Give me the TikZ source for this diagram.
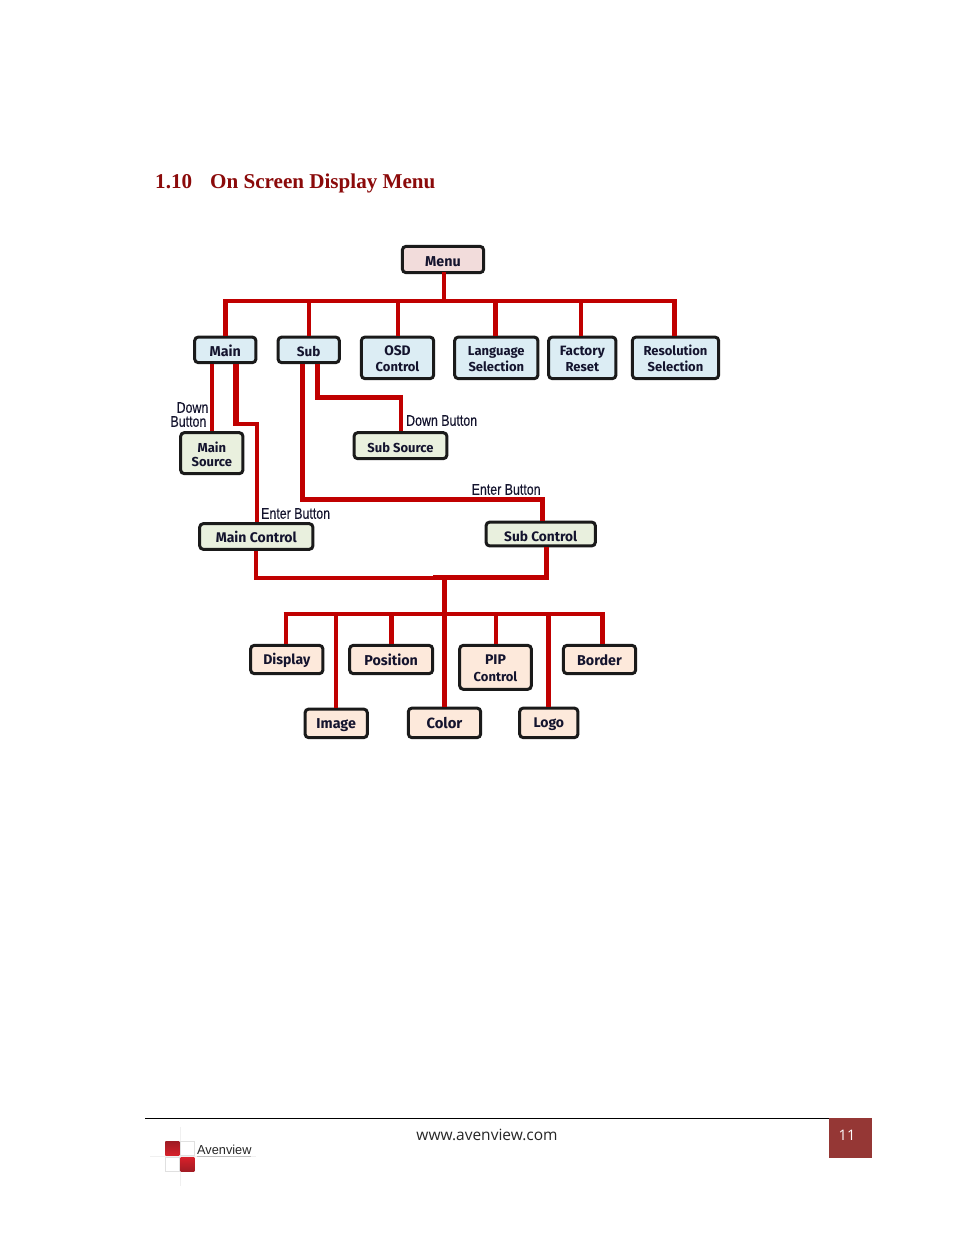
\documentclass[tikz,border=0pt]{standalone}
\usepackage{fontspec}
\setmainfont{Liberation Sans}
\newfontfamily\boxfont{Fira Sans}[UprightFont=*-Bold]
\newfontfamily\labelfont{Liberation Sans}
\newfontfamily\hintfont{Liberation Sans}[FakeBold=0.25]
\newfontfamily\titlefont{Liberation Serif}
\newfontfamily\footfont{Open Sans}
\definecolor{wirered}{HTML}{C00000}
\definecolor{ink}{HTML}{14142E}
\definecolor{boxline}{HTML}{1A1A1A}
\definecolor{blueb}{HTML}{DCEDF4}
\definecolor{greenb}{HTML}{E9F0DE}
\definecolor{peachb}{HTML}{FDE9DB}
\definecolor{pinkb}{HTML}{F2DCDB}
\definecolor{titlered}{HTML}{8B0A0A}
\definecolor{pagebox}{HTML}{953735}
\definecolor{logored}{HTML}{D8202A}
\definecolor{logodark}{HTML}{A01C24}
\tikzset{
  mbox/.style={draw=boxline,line width=3pt,rounded corners=3.5pt,inner sep=0pt,align=center,
    text=ink,font=\boxfont\fontsize{13}{16}\selectfont},
  wire/.style={draw=wirered,line width=#1,line join=miter},
  wire/.default=4pt,
  hint/.style={text=ink,inner sep=0pt,font=\hintfont\fontsize{15.5}{15.5}\selectfont,xscale=.80},
}
\newcommand\fsz[1]{\fontsize{#1}{16}\selectfont}
\newcommand\firstst{\rule{0pt}{13pt}}
\newcommand\lastst{\rule[-2pt]{0pt}{2pt}}
\newcommand\dn[1]{\raisebox{-1pt}{#1}}
% name, fill, left, top, right, bottom, text
\newcommand\mybox[7]{%
  \pgfmathsetmacro\bw{#5-#3-2.8}\pgfmathsetmacro\bh{#6-#4-2.8}%
  \node[mbox,fill=#2,minimum width=\bw pt,minimum height=\bh pt] (#1) at ({(#3+#5)/2},{(#4+#6)/2}) {\firstst#7\lastst};}
\begin{document}
\begin{tikzpicture}[x=1pt,y=-1pt]
\useasboundingbox[fill=white] (0,0) rectangle (954,1235);
% title
\node[anchor=base west,inner sep=0pt,text=titlered,font=\titlefont\bfseries\fontsize{21.1}{21.1}\selectfont] (title) at (155,188) {1.10\hspace{18pt}On Screen Display Menu};
% boxes
\mybox{menu}{pinkb}{401}{245}{485}{274}{\fsz{14.3}\dn{Menu}}
\mybox{main}{blueb}{193.3}{335.7}{257.3}{364}{\fsz{14.3}\dn{Main}}
\mybox{sub}{blueb}{276.7}{335.7}{340.7}{364}{\fsz{13.5}\dn{Sub}}
\mybox{osd}{blueb}{360}{335.7}{435}{380}{\fsz{13.8}OSD\\Control}
\mybox{lang}{blueb}{453.3}{335.7}{539.3}{380}{Language\\Selection}
\mybox{factory}{blueb}{547.3}{335.7}{617.3}{380}{\fsz{13.5}Factory\\Reset}
\mybox{res}{blueb}{631}{335.7}{720}{380}{Resolution\\Selection}
\mybox{mainsrc}{greenb}{179.3}{431.3}{244.3}{475}{\raisebox{-1.5pt}{Main}\\Source}
\mybox{subsrc}{greenb}{352.7}{431.3}{448.3}{460}{\dn{Sub Source}}
\mybox{mainctl}{greenb}{198.3}{522.3}{314.3}{550.7}{\fsz{14}Main Control}
\mybox{subctl}{greenb}{484.7}{520.7}{596.7}{547.3}{\fsz{13.7}\raisebox{-1.5pt}{Sub Control}}
\mybox{display}{peachb}{249.3}{644}{324.3}{675}{\fsz{14}\dn{Display}}
\mybox{position}{peachb}{348.3}{644}{434}{675}{\fsz{14.3}Position}
\mybox{pip}{peachb}{458.3}{644}{532.7}{690.7}{\fsz{14}PIP\\\dn{Control}}
\mybox{border}{peachb}{562}{644}{637}{675}{\fsz{14.3}Border}
\mybox{image}{peachb}{303.7}{707.7}{368.7}{739}{\fsz{14.3}Image}
\mybox{color}{peachb}{407}{706.7}{482}{739}{\fsz{14.8}Color}
\mybox{logo}{peachb}{518.3}{706.7}{579.3}{739}{\fsz{14}Logo}
% junction coordinates
\coordinate (tMenu) at (444.4,301);
\coordinate (tMain) at (225.7,301);
\coordinate (tSub) at (309,301);
\coordinate (tOsd) at (397.7,301);
\coordinate (tLang) at (495.7,301);
\coordinate (tFac) at (581.3,301);
\coordinate (tRes) at (674.7,301);
\coordinate (aMain) at (236,424.3);
\coordinate (bMain) at (256.7,424.3);
\coordinate (aSub) at (317.7,397.3);
\coordinate (bSub) at (401.3,397.3);
\coordinate (cSub) at (302.3,499);
\coordinate (dSub) at (542,499);
\coordinate (jm) at (256.3,577.7);
\coordinate (jl) at (433,577.7);
\coordinate (js) at (546.7,577);
\coordinate (jc) at (444,577);
\coordinate (bDisp) at (285.7,613.7);
\coordinate (bImg) at (335.7,613.7);
\coordinate (bPos) at (391.3,613.7);
\coordinate (bPip) at (496,613.7);
\coordinate (bLogo) at (548,613.7);
\coordinate (bBord) at (602,613.7);
% connectors top tree
\draw[wire=4pt] (menu.south -| tMenu) ++(0,-2) -- (tMenu);
\draw[wire=3.6pt,shorten <=-2.7pt,shorten >=-2.5pt] (tMain) -- (tRes);
\draw[wire=5.4pt] (tMain) -- (main.north -| tMain);
\draw[wire=4pt] (tSub) -- (sub.north -| tSub);
\draw[wire=4pt] (tOsd) -- (osd.north -| tOsd);
\draw[wire=5pt] (tLang) -- (lang.north -| tLang);
\draw[wire=4pt] (tFac) -- (factory.north -| tFac);
\draw[wire=5pt] (tRes) -- (res.north -| tRes);
% Main children
\draw[wire=4.6pt] (main.south -| 212,0) -- (mainsrc.north -| 212,0);
\draw[wire=5.4pt] (main.south -| aMain) -- ([yshift=-2.1pt]aMain);
\draw[wire=4.2pt] (aMain) -- (bMain) -- (mainctl.north -| bMain);
% Sub children
\draw[wire=5pt] (sub.south -| aSub) |- (bSub);
\draw[wire=4.2pt,shorten <=-2.4pt] (bSub) -- (subsrc.north -| bSub);
\draw[wire=5pt] (sub.south -| cSub) |- (dSub) -- (subctl.north -| dSub);
% lower tree
\draw[wire=4pt] (mainctl.south -| jm) |- (jl);
\draw[wire=5pt] (subctl.south -| js) |- (jl);
\draw[wire=5pt] (jc) -- (color.north -| jc);
\draw[wire=3.6pt,shorten <=-2pt,shorten >=-2.5pt] (bDisp) -- (bBord);
\draw[wire=4pt] (bDisp) -- (display.north -| bDisp);
\draw[wire=4pt] (bImg) -- (image.north -| bImg);
\draw[wire=5pt] (bPos) -- (position.north -| bPos);
\draw[wire=4pt] (bPip) -- (pip.north -| bPip);
\draw[wire=5pt] (bLogo) -- (logo.north -| bLogo);
\draw[wire=5pt] (bBord) -- (border.north -| bBord);
% button labels
\node[hint,anchor=east] (ldown1) at (208.5,407.5) {Down};
\node[hint,anchor=east] (ldown2) at (206.5,421.5) {Button};
\node[hint,anchor=west] (ldown3) at (406,420.5) {Down Button};
\node[hint,anchor=west] (lent1) at (471.5,489.5) {Enter Button};
\node[hint,anchor=west] (lent2) at (261,513.5) {Enter Button};
% footer
\draw[line width=1pt,black] (145,1118.4) -- (829,1118.4);
\fill[pagebox] (829,1118) rectangle (872,1157.7);
\node[text=white,inner sep=0pt,font=\footfont\fontsize{14.5}{14.5}\selectfont] (pageno) at (847,1135) {11};
\node[anchor=base,inner sep=0pt,text=black!85,font=\footfont\fontsize{15.5}{15.5}\selectfont] (url) at (487,1140) {www.avenview.com};
% logo
\draw[black!6,line width=1pt] (180,1127) -- (180,1186);
\draw[black!6,line width=1pt] (150,1156) -- (256,1156);
\draw[black!25,line width=.7pt] (197,1156) -- (251,1156);
\draw[black!12,line width=1pt] (180.7,1141.7) rectangle (194.3,1155.7);
\draw[black!12,line width=1pt] (165.3,1157) rectangle (179.3,1171.7);
\shade[top color=logodark,bottom color=logored] (165.3,1141.7) rectangle (179.3,1155.7);
\shade[top color=logored,bottom color=logodark] (180.7,1157) rectangle (194.3,1171.7);
\node[anchor=base west,inner sep=0pt,text=black!85,font=\labelfont\fontsize{13}{13}\selectfont,xscale=.98] (brand) at (197,1154.5) {Avenview};
\end{tikzpicture}
\end{document}
